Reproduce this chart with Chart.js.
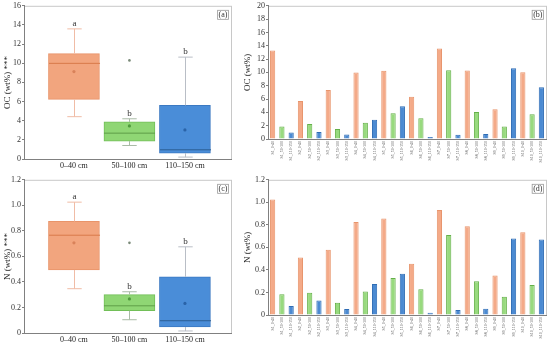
<!DOCTYPE html>
<html>
<head>
<meta charset="utf-8">
<script src="https://cdn.jsdelivr.net/npm/chart.js@4.4.1/dist/chart.umd.min.js"></script>
<style>
html, body { margin: 0; padding: 0; background: #fff; }
#wrap { position: relative; width: 550px; height: 348px; overflow: hidden; }
canvas { position: absolute; }
</style>
</head>
<body>
<div id="wrap">
  <canvas id="chA" width="240" height="174" style="left:0;top:0"></canvas>
  <canvas id="chB" width="310" height="174" style="left:240px;top:0"></canvas>
  <canvas id="chC" width="240" height="174" style="left:0;top:174px"></canvas>
  <canvas id="chD" width="310" height="174" style="left:240px;top:174px"></canvas>
</div>
<script>
// ---------- Data ----------

const depths = ["0–40 cm", "50–100 cm", "110–150 cm"];
const depthCodes = ["0-40", "50-100", "110-150"];
const sites = ["S1", "S2", "S3", "S4", "S5", "S6", "S7", "S8", "S9", "S10"];

// box plot stats, one value per depth
const ocQ1 = [6.22, 1.87, 0.62];
const ocQ3 = [11.0, 3.87, 5.6];
const ocMedian = [9.99, 2.7, 0.96];
const ocMean = [9.13, 3.45, 3.04];
const ocLow = [4.42, 1.41, 0.2];
const ocHigh = [13.59, 4.2, 10.64];
const ocOutliers = [[], [10.3], []];
const ocLetters = ["a", "b", "b"];

const nQ1 = [0.494, 0.174, 0.047];
const nQ3 = [0.874, 0.30, 0.44];
const nMedian = [0.766, 0.213, 0.096];
const nMean = [0.706, 0.267, 0.232];
const nLow = [0.347, 0.104, 0.016];
const nHigh = [1.025, 0.323, 0.675];
const nOutliers = [[], [0.706], []];
const nLetters = ["a", "b", "b"];

// per sample values, site by site, depth order 0-40 / 50-100 / 110-150
const ocValues = [13.3, 1.88, 0.99, 5.72, 2.24, 1.04, 7.36, 1.49, 0.69, 10.0, 2.43, 2.88,
                  10.24, 3.88, 4.93, 6.36, 3.13, 0.3, 13.58, 10.34, 0.64, 10.3, 4.07, 0.75,
                  4.48, 1.88, 10.64, 10.04, 3.73, 7.76];
const nValues = [1.026, 0.185, 0.079, 0.51, 0.197, 0.129, 0.58, 0.108, 0.053, 0.826, 0.208, 0.276,
                 0.856, 0.329, 0.367, 0.455, 0.229, 0.02, 0.932, 0.709, 0.044, 0.788, 0.3, 0.056,
                 0.35, 0.161, 0.68, 0.735, 0.267, 0.671];

const sampleLabels = sites.flatMap(s => depthCodes.map(d => s + "_" + d));

// ---------- Styles ----------

const FONT = '"Liberation Serif", "Times New Roman", serif';
Chart.defaults.font.family = FONT;
Chart.defaults.color = "#333";
Chart.defaults.animation = false;

const boxFill = ["#F2A57E", "#8FD674", "#4A8DD8"];
const boxLine = ["#E8946A", "#72BF58", "#3B79C2"];
const whiskerColor = ["#F0BCA6", "#A9BBA6", "#B9BEC6"];
const medianColor = ["#D97A4A", "#5E9E48", "#2A5D93"];
const meanColor = ["#D9825A", "#4F9A3C", "#2A63A8"];

const barFill = ["#F4AA88", "#98DA7E", "#4B8AD2"];
const barLine = ["#E8956C", "#64B049", "#2F6DB5"];

const frameColor = "#C8C8C8";
const axisColor = "#808080";

// ---------- Plugins ----------

// light frame round the plot area + small boxed panel tag
const framePlugin = {
    id: "frame",
    beforeDraw(chart) {
        const a = chart.chartArea, ctx = chart.ctx;
        ctx.save();
        ctx.strokeStyle = frameColor;
        ctx.lineWidth = 1;
        ctx.strokeRect(a.left + 0.5, a.top + 0.5, a.right - a.left, a.bottom - a.top);
        ctx.restore();
    },
    afterDraw(chart, args, opts) {
        if (!opts.tag) return;
        const a = chart.chartArea, ctx = chart.ctx;
        ctx.save();
        ctx.font = "8px " + FONT;
        const w = ctx.measureText(opts.tag).width + 2;
        const x = a.right - 3 - w, y = a.top + 4;
        ctx.strokeStyle = "#999";
        ctx.lineWidth = 0.8;
        ctx.strokeRect(x + 0.5, y + 0.5, w, 9);
        ctx.fillStyle = "#333";
        ctx.textBaseline = "middle";
        ctx.fillText(opts.tag, x + 1.5, y + 5);
        ctx.restore();
    }
};

// whiskers, caps, medians and letters for the box panels
const boxPlugin = {
    id: "boxExtras",
    afterDatasetsDraw(chart, args, opts) {
        if (!opts.stats) return;
        const ctx = chart.ctx, x = chart.scales.x, y = chart.scales.y;
        const s = opts.stats;
        ctx.save();
        for (let i = 0; i < depths.length; i++) {
            const cx = Math.round(x.getPixelForValue(i + 1)) + 0.5;
            const cap = Math.abs(x.getPixelForValue(i + 1 + 0.13) - x.getPixelForValue(i + 1));
            const box = Math.abs(x.getPixelForValue(i + 1 + 0.46) - x.getPixelForValue(i + 1));
            const yHi = y.getPixelForValue(s.high[i]);
            const yLo = y.getPixelForValue(s.low[i]);
            const yQ1 = y.getPixelForValue(s.q1[i]);
            const yQ3 = y.getPixelForValue(s.q3[i]);

            ctx.strokeStyle = whiskerColor[i];
            ctx.lineWidth = 1;
            ctx.beginPath();
            ctx.moveTo(cx, yQ3); ctx.lineTo(cx, yHi);
            ctx.moveTo(cx, yQ1); ctx.lineTo(cx, yLo);
            ctx.moveTo(cx - cap, yHi); ctx.lineTo(cx + cap, yHi);
            ctx.moveTo(cx - cap, yLo); ctx.lineTo(cx + cap, yLo);
            ctx.stroke();

            const ym = y.getPixelForValue(s.median[i]);
            ctx.strokeStyle = medianColor[i];
            ctx.beginPath();
            ctx.moveTo(cx - box, ym); ctx.lineTo(cx + box, ym);
            ctx.stroke();

            ctx.fillStyle = "#333";
            ctx.font = "9px " + FONT;
            ctx.textAlign = "center";
            ctx.textBaseline = "bottom";
            ctx.fillText(s.letters[i], cx, yHi - 1);
        }
        ctx.restore();
    }
};

Chart.register(framePlugin, boxPlugin);

// ---------- Helpers ----------

function yTicks(max, step, decimals) {
    return {
        min: 0, max: max,
        ticks: {
            stepSize: step,
            font: { size: 8 },
            color: "#333",
            padding: 1,
            callback: v => v === 0 ? "0" : v.toFixed(decimals)
        },
        grid: { drawOnChartArea: false, drawTicks: true, tickLength: 2, color: axisColor },
        border: { color: axisColor }
    };
}

function boxChart(id, stats, yMax, yStep, decimals, yTitle, tag) {
    const y = yTicks(yMax, yStep, decimals);
    y.title = { display: true, text: yTitle, font: { size: 9 }, color: "#222", padding: { top: 2, bottom: 0 } };
    y.afterFit = s => { s.width = 24; };

    const outlierPts = [];
    stats.outliers.forEach((list, i) => list.forEach(v => outlierPts.push({ x: i + 1, y: v })));

    new Chart(document.getElementById(id), {
        type: "bar",
        data: {
            datasets: [
                {
                    type: "bar",
                    order: 3,
                    data: depths.map((d, i) => ({ x: i + 1, y: [stats.q1[i], stats.q3[i]] })),
                    backgroundColor: boxFill,
                    borderColor: boxLine,
                    borderWidth: 1,
                    borderSkipped: false,
                    barThickness: 51,
                    grouped: false
                },
                {
                    type: "scatter",
                    order: 1,
                    data: depths.map((d, i) => ({ x: i + 1, y: stats.mean[i] })),
                    pointRadius: 1.6,
                    pointBorderWidth: 0,
                    backgroundColor: meanColor
                },
                {
                    type: "scatter",
                    order: 1,
                    data: outlierPts,
                    pointRadius: 1.3,
                    pointBorderWidth: 0,
                    backgroundColor: "#7A8A78"
                }
            ]
        },
        options: {
            responsive: false,
            layout: { padding: { top: 5, right: 9, left: 0, bottom: 0 } },
            plugins: {
                legend: { display: false },
                tooltip: { enabled: false },
                frame: { tag: tag },
                boxExtras: { stats: stats }
            },
            scales: {
                x: {
                    type: "linear",
                    min: 0.1, max: 3.83,
                    offset: false,
                    afterBuildTicks: s => { s.ticks = depths.map((d, i) => ({ value: i + 1 })); },
                    afterFit: s => { s.height = 15; },
                    ticks: { font: { size: 8 }, color: "#222", padding: 2, callback: v => depths[v - 1] },
                    grid: { display: false, drawTicks: false },
                    border: { color: axisColor }
                },
                y: y
            }
        }
    });
}

function barChart(id, values, yMax, yStep, decimals, yTitle, tag, xHeight) {
    const y = yTicks(yMax, yStep, decimals);
    y.title = { display: true, text: yTitle, font: { size: 9 }, color: "#222", padding: { top: 2, bottom: 0 } };
    y.afterFit = s => { s.width = 28; };

    new Chart(document.getElementById(id), {
        type: "bar",
        data: {
            labels: sampleLabels,
            datasets: [{
                data: values,
                backgroundColor: values.map((v, i) => barFill[i % 3]),
                borderColor: values.map((v, i) => barLine[i % 3]),
                borderWidth: 1,
                borderSkipped: "bottom",
                categoryPercentage: 1,
                barPercentage: 0.56
            }]
        },
        options: {
            responsive: false,
            layout: { padding: { top: 5, right: 4, left: 0, bottom: 0 } },
            plugins: {
                legend: { display: false },
                tooltip: { enabled: false },
                frame: { tag: tag }
            },
            scales: {
                x: {
                    afterFit: s => { s.height = xHeight; },
                    ticks: { font: { size: 4 }, color: "#555", padding: 2, autoSkip: false, minRotation: 90, maxRotation: 90 },
                    grid: { display: false, drawTicks: false },
                    border: { color: axisColor }
                },
                y: y
            }
        }
    });
}

// ---------- Charts ----------

boxChart("chA", { q1: ocQ1, q3: ocQ3, median: ocMedian, mean: ocMean, low: ocLow, high: ocHigh,
                  outliers: ocOutliers, letters: ocLetters }, 16, 2, 0, "OC (wt%) ***", "(a)");

barChart("chB", ocValues, 20, 2, 0, "OC (wt%)", "(b)", 35);

boxChart("chC", { q1: nQ1, q3: nQ3, median: nMedian, mean: nMean, low: nLow, high: nHigh,
                  outliers: nOutliers, letters: nLetters }, 1.2, 0.2, 1, "N (wt%) ***", "(c)");

barChart("chD", nValues, 1.2, 0.2, 1, "N (wt%)", "(d)", 33);
</script>
</body>
</html>
